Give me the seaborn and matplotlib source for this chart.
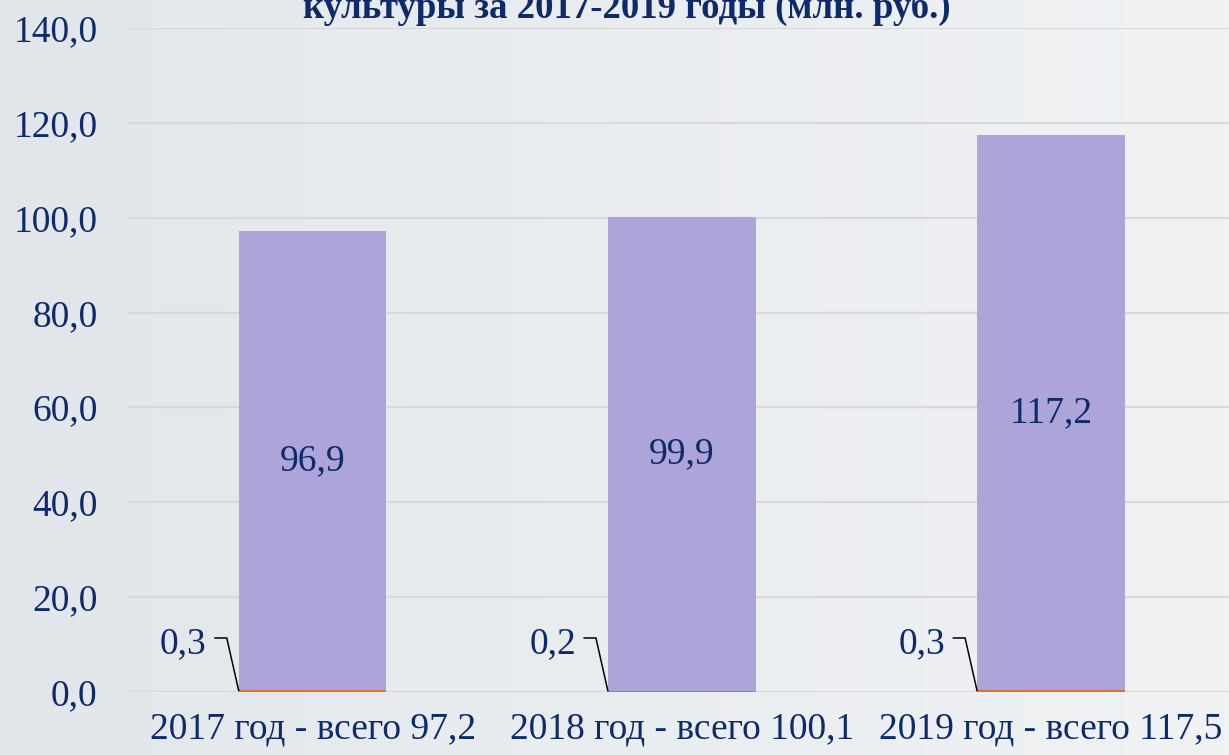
import numpy as np
import pandas as pd
import matplotlib
matplotlib.use("Agg")
import matplotlib.pyplot as plt
import seaborn as sns

# Data (млн. руб.)
years = ["2017", "2018", "2019"]
small_part = [0.3, 0.2, 0.3]
main_part = [96.9, 99.9, 117.2]
totals = [97.2, 100.1, 117.5]
y_ticks = [0, 20, 40, 60, 80, 100, 120, 140]


def fmt(v):
    return f"{v:.1f}".replace(".", ",")


tick_labels = [f"{y} год - всего {fmt(t)}" for y, t in zip(years, totals)]

df = pd.DataFrame({
    "label": tick_labels,
    "small": small_part,
    "main": main_part,
})

sns.set_theme(style="white")
plt.rcParams["font.family"] = ["Liberation Serif", "DejaVu Serif"]

TEXT = "#0d2a6b"
BAR = "#ada4d9"
BASE = "#e2702e"
GRID = "#d9d9dc"
FS = 27

W, H = 1229, 755
fig = plt.figure(figsize=(W / 100, H / 100), dpi=100)

# soft horizontal background gradient
bg = fig.add_axes([0, 0, 1, 1], zorder=-10)
grad = np.linspace(0, 1, 256)[None, :]
cmap = matplotlib.colors.LinearSegmentedColormap.from_list("bg", ["#e2e6ea", "#eaedf0", "#f0f2f4"])
bg.imshow(grad, aspect="auto", cmap=cmap, extent=[0, 1, 0, 1])
bg.set_axis_off()

left_px, right_px = 128, 1235.5
top_px, bottom_px = 28.3, 691.5
ax = fig.add_axes([left_px / W, 1 - bottom_px / H,
                   (right_px - left_px) / W, (bottom_px - top_px) / H])
ax.patch.set_alpha(0)

bar_w = 0.40
sns.barplot(data=df, x="label", y="small", color=BASE, width=bar_w,
            saturation=1, ax=ax, zorder=3, linewidth=0)
sns.barplot(data=df, x="label", y="main", bottom=df["small"], color=BAR,
            width=bar_w, saturation=1, ax=ax, zorder=3, linewidth=0)

ax.set_ylim(0, 140)
ax.set_xlim(-0.5, 2.5)
ax.set_yticks(y_ticks)
ax.set_yticklabels([fmt(v) for v in y_ticks])
ax.yaxis.grid(True, color=GRID, linewidth=1.6, zorder=0)
ax.set_axisbelow(True)
for s in ax.spines.values():
    s.set_visible(False)
ax.tick_params(axis="both", length=0, labelsize=FS, colors=TEXT)
ax.tick_params(axis="y", pad=22)
ax.tick_params(axis="x", pad=15)
ax.set_xlabel("")
ax.set_ylabel("")

# value labels inside the main segments
for i, (s, m) in enumerate(zip(small_part, main_part)):
    ax.text(i, s + m / 2, fmt(m), ha="center", va="center",
            fontsize=FS, color=TEXT, zorder=5)

# leader-line labels for the thin base segments
px_per_unit_x = (right_px - left_px) / 3.0
for i, s in enumerate(small_part):
    x_corner = i - bar_w / 2
    x_elbow = x_corner - 12 / px_per_unit_x
    x_end = x_elbow - 12 / px_per_unit_x
    y_elbow = 11.3
    ax.plot([x_end, x_elbow, x_corner], [y_elbow, y_elbow, s / 2],
            color="black", linewidth=1.1, zorder=6, solid_joinstyle="miter")
    ax.text(x_end - 8 / px_per_unit_x, y_elbow - 1.2, fmt(s), ha="right",
            va="center", fontsize=FS, color=TEXT, zorder=6)

# title (upper line runs off the top edge)
fig.text(627 / W, 1 - 18 / H, "культуры за 2017-2019 годы (млн. руб.)",
         ha="center", va="baseline", fontsize=26.5, fontweight="bold",
         color=TEXT)

fig.savefig("out.png", dpi=100)
